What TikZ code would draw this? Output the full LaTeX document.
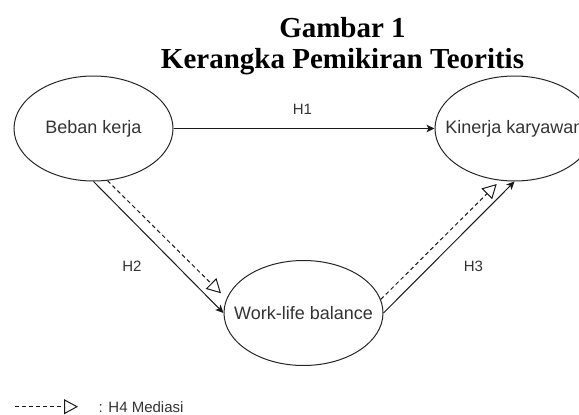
\documentclass[tikz,border=0pt]{standalone}
\usepackage{fontspec}
\setmainfont{Liberation Serif}
\newfontfamily\arialfont{Liberation Sans}
\usepackage{tikz}
\usetikzlibrary{arrows.meta,shapes.geometric}

\tikzset{
  var/.style={ellipse, draw=black!85, line width=1pt, minimum width=159pt, minimum height=105pt, inner sep=0pt, font=\arialfont\fontsize{18}{20}\selectfont, text=black!80},
  hyp/.style={font=\arialfont\fontsize{15}{17}\selectfont, text=black!80},
  judul/.style={font=\bfseries\fontsize{29}{31}\selectfont, anchor=base},
  pengaruh/.style={draw=black!90, line width=1pt, -{Stealth[length=8pt,width=7.5pt,inset=2pt]}},
  mediasi/.style={draw=black!90, line width=1pt, dash pattern=on 4pt off 3pt, -{Triangle[open,length=14pt,width=15pt]}},
}

\begin{document}
\begin{tikzpicture}[x=1pt, y=-1pt, thick]
\useasboundingbox (0,0) rectangle (579,415);
\clip (0,0) rectangle (579,415);
%%%%% Judul %%%%%
\node[judul] (judul1) at (342.5,37) {Gambar 1};
\node[judul] (judul2) at (342.5,68) {Kerangka Pemikiran Teoritis};
%%%%% Variabel %%%%%
\node[var] (beban) at (93.5,128.5) {\makebox[0pt]{Beban kerja}};
\node[var] (kinerja) at (514.5,128.5) {\makebox[0pt]{Kinerja karyawan}};
\node[var] (wlb) at (303.5,313) {\makebox[0pt]{Work-life balance}};
%%%%% Hipotesis %%%%%
\draw[pengaruh] (beban.east) -- (kinerja.west);
\draw[pengaruh] (beban.south) -- (wlb.west);
\draw[pengaruh] (wlb.east) -- (kinerja.south);
\coordinate (ujung2) at (221,293.3);
\coordinate (ujung3) at (496.7,184);
\draw[mediasi] (beban.-75) -- (ujung2);
\draw[mediasi] (wlb.10) -- (ujung3);
\node[hyp] (h1) at (302.5,109) {H1};
\node[hyp] (h2) at (132,266.7) {H2};
\node[hyp] (h3) at (473.5,266.7) {H3};
%%%%% Keterangan %%%%%
\coordinate (ket1) at (15,406.7);
\coordinate (ket2) at (78,406.7);
\draw[mediasi] (ket1) -- (ket2);
\node[hyp, anchor=west] (ket) at (95,406.7) {: H4 Mediasi};
\end{tikzpicture}
\end{document}
